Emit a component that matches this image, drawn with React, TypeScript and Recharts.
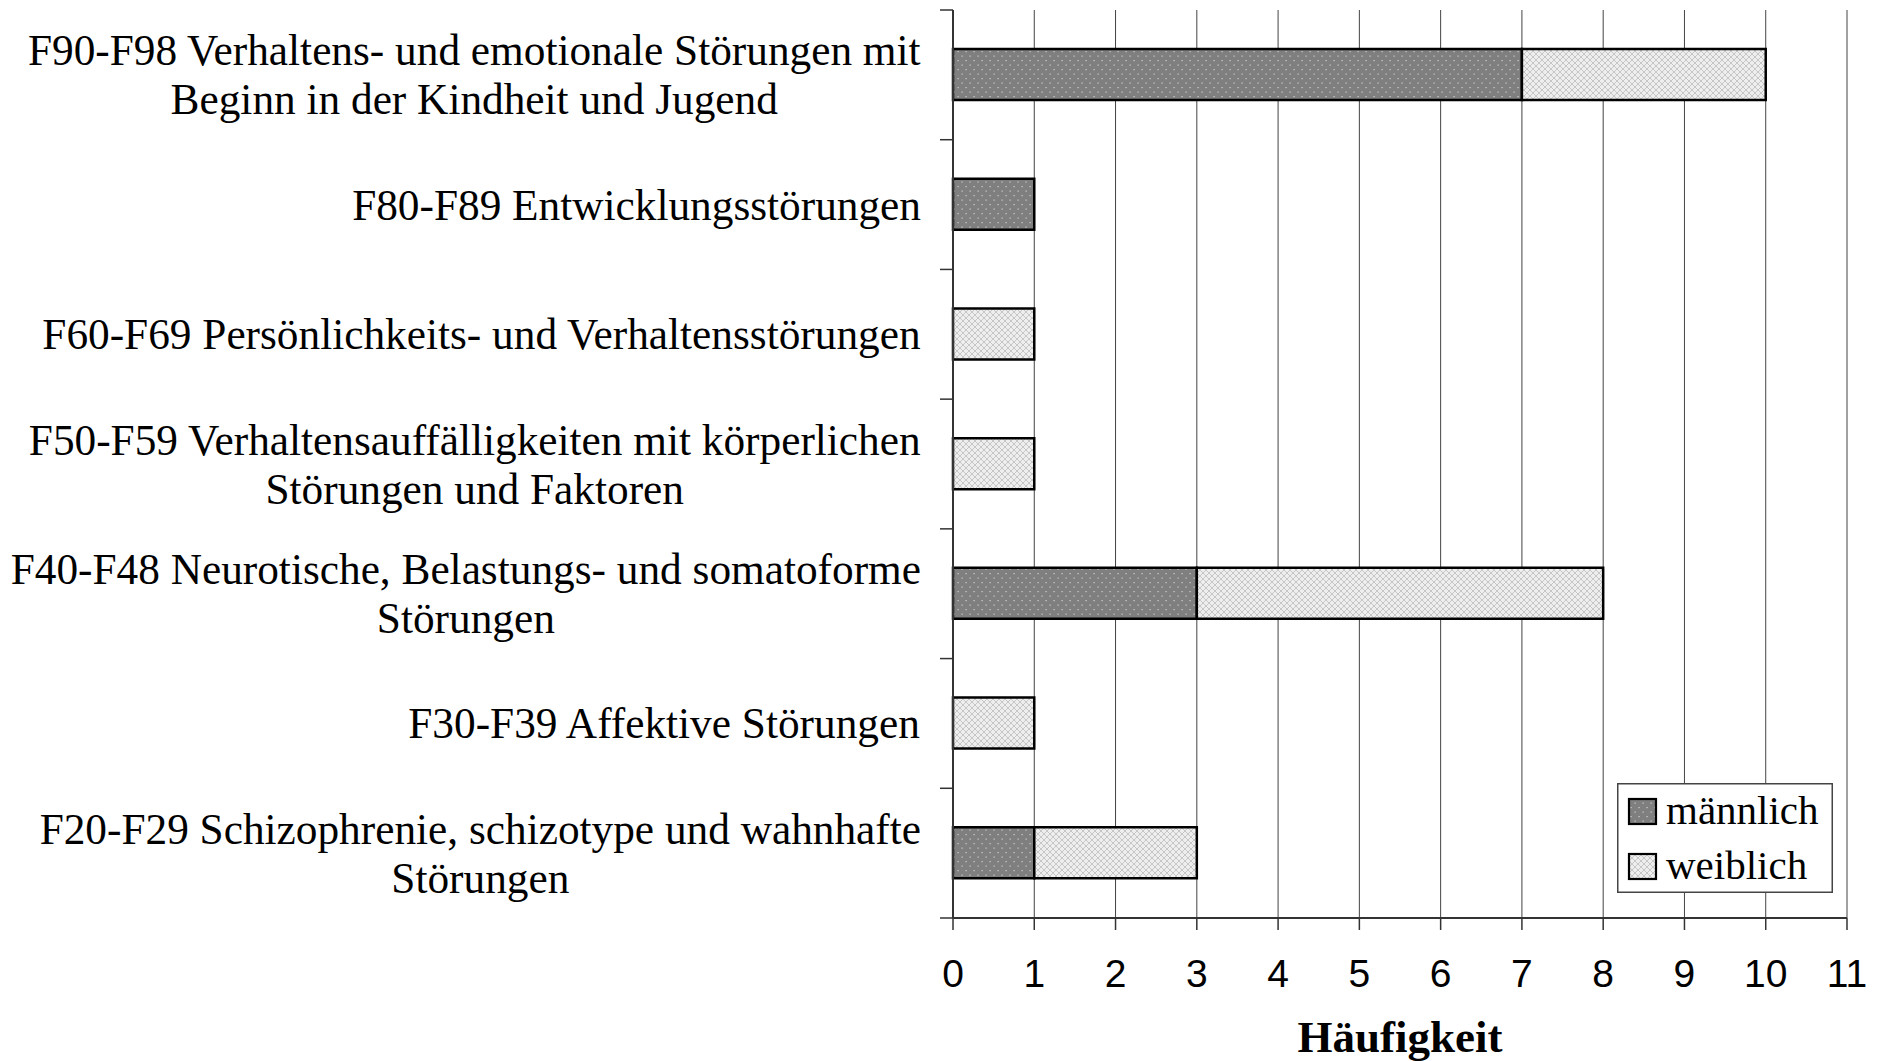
import React from 'react';
import { BarChart, Bar, XAxis, YAxis, CartesianGrid, Legend } from 'recharts';

const categories = [
  'F90-F98 Verhaltens- und emotionale Störungen mit\nBeginn in der Kindheit und Jugend',
  'F80-F89 Entwicklungsstörungen',
  'F60-F69 Persönlichkeits- und Verhaltensstörungen',
  'F50-F59 Verhaltensauffälligkeiten mit körperlichen\nStörungen und Faktoren',
  'F40-F48 Neurotische, Belastungs- und somatoforme\nStörungen',
  'F30-F39 Affektive Störungen',
  'F20-F29 Schizophrenie, schizotype und wahnhafte\nStörungen',
];
const maennlich = [7, 1, 0, 0, 3, 0, 1];
const weiblich = [3, 0, 1, 1, 5, 1, 2];
const xTicks = [0, 1, 2, 3, 4, 5, 6, 7, 8, 9, 10, 11];
const seriesNames = ['männlich', 'weiblich'];
const xTitle = 'Häufigkeit';

const data = categories.map((cat, i) => ({ cat, m: maennlich[i], w: weiblich[i] }));

const W = 1878;
const H = 1061;
const MARGIN = { top: 10, right: 31, bottom: 0, left: 0 };
const Y_AXIS_W = 953;
const X_AXIS_H = 143;
const PLOT_H = H - MARGIN.top - X_AXIS_H;
const BAND_HALF = PLOT_H / categories.length / 2;
const SERIF = "'Liberation Serif', 'Times New Roman', serif";
const SANS = "'Liberation Sans', Arial, sans-serif";
const LABEL_FS = 43.3;
const LABEL_RIGHT = 921;
const LINE_GAP = 49;

let measureCtx: CanvasRenderingContext2D | null = null;
const measure = (s: string) => {
  if (typeof document === 'undefined') return s.length * LABEL_FS * 0.42;
  if (!measureCtx) measureCtx = document.createElement('canvas').getContext('2d');
  if (!measureCtx) return s.length * LABEL_FS * 0.42;
  measureCtx.font = `${LABEL_FS}px ${SERIF}`;
  return measureCtx.measureText(s).width;
};

const YTick = (props: any) => {
  const { y, index } = props;
  const label: string = categories[index] ?? '';
  const lines = label.split('\n');
  const n = lines.length;
  const maxW = Math.max(...lines.map(measure));
  const cx = LABEL_RIGHT - maxW / 2;
  const isLast = index === categories.length - 1;
  return (
    <g>
      <line x1={Y_AXIS_W - 13} x2={Y_AXIS_W} y1={y - BAND_HALF} y2={y - BAND_HALF} stroke="#333" strokeWidth={1.5} />
      {isLast && (
        <line x1={Y_AXIS_W - 13} x2={Y_AXIS_W} y1={y + BAND_HALF} y2={y + BAND_HALF} stroke="#333" strokeWidth={1.5} />
      )}
      {lines.map((ln, i) => (
        <text
          key={i}
          x={cx}
          y={y + 15 + (i - (n - 1) / 2) * LINE_GAP}
          textAnchor="middle"
          fontFamily={SERIF}
          fontSize={LABEL_FS}
          fill="#000"
        >
          {ln}
        </text>
      ))}
    </g>
  );
};

const LegendBox = () => (
  <svg width={216} height={110} style={{ display: 'block' }}>
    <rect x={0.75} y={0.75} width={214.5} height={108.5} fill="#fff" stroke="#444" strokeWidth={1.5} />
    <rect x={12} y={16} width={27} height={25} fill="url(#patM)" stroke="#000" strokeWidth={2.2} />
    <text x={49} y={41} fontFamily={SERIF} fontSize={41} fill="#000">{seriesNames[0]}</text>
    <rect x={12} y={71} width={27} height={25} fill="url(#patW)" stroke="#000" strokeWidth={2.2} />
    <text x={49} y={96} fontFamily={SERIF} fontSize={41} fill="#000">{seriesNames[1]}</text>
  </svg>
);

export default function App() {
  return (
    <div style={{ position: 'absolute', left: 0, top: 0, width: W, height: H, background: '#fff' }}>
      <BarChart width={W} height={H} data={data} layout="vertical" margin={MARGIN} barSize={51}>
        <defs>
          <pattern id="patM" width={8} height={9} patternUnits="userSpaceOnUse">
            <rect width={8} height={9} fill="#7f7f7f" />
            <rect x={1.5} y={1.5} width={1.2} height={1.2} fill="#d0d0d0" />
            <rect x={5.5} y={6} width={1.2} height={1.2} fill="#d0d0d0" />
          </pattern>
          <pattern id="patW" width={6} height={6} patternUnits="userSpaceOnUse">
            <rect width={6} height={6} fill="#eeeeee" />
            <path d="M0,0 L6,6 M6,0 L0,6" stroke="#c2c2c2" strokeWidth={0.9} />
          </pattern>
        </defs>
        <CartesianGrid vertical horizontal={false} stroke="#444" strokeWidth={1} />
        <XAxis
          type="number"
          domain={[0, 11]}
          ticks={xTicks}
          interval={0}
          height={X_AXIS_H}
          tickSize={12}
          tickMargin={29}
          tickLine={{ stroke: '#333', strokeWidth: 1.5 }}
          axisLine={{ stroke: '#333', strokeWidth: 2 }}
          tick={{ fontFamily: SANS, fontSize: 39, fill: '#000' }}
          label={{ value: xTitle, position: 'insideBottom', offset: 9, style: { fontFamily: SERIF, fontSize: 45, fontWeight: 'bold', fill: '#000' } }}
        />
        <XAxis
          xAxisId="top"
          orientation="top"
          type="number"
          domain={[0, 11]}
          height={0}
          tick={false}
          tickLine={false}
          axisLine={{ stroke: '#999', strokeWidth: 2 }}
        />
        <YAxis
          type="category"
          dataKey="cat"
          width={Y_AXIS_W}
          tickLine={false}
          axisLine={{ stroke: '#333', strokeWidth: 2 }}
          tick={<YTick />}
          interval={0}
        />
        <YAxis
          yAxisId="right"
          orientation="right"
          type="category"
          dataKey="cat"
          width={0}
          tick={false}
          tickLine={false}
          axisLine={{ stroke: '#999', strokeWidth: 2 }}
        />
        <Bar dataKey="m" name={seriesNames[0]} stackId="a" fill="url(#patM)" stroke="#000" strokeWidth={2.5} isAnimationActive={false} />
        <Bar dataKey="w" name={seriesNames[1]} stackId="a" fill="url(#patW)" stroke="#000" strokeWidth={2.5} isAnimationActive={false} />
        <Legend
          layout="vertical"
          align="center"
          verticalAlign="middle"
          content={<LegendBox />}
          wrapperStyle={{ position: 'absolute', left: 1617, top: 783, width: 216, height: 110, bottom: 'auto', right: 'auto' }}
        />
      </BarChart>
    </div>
  );
}
